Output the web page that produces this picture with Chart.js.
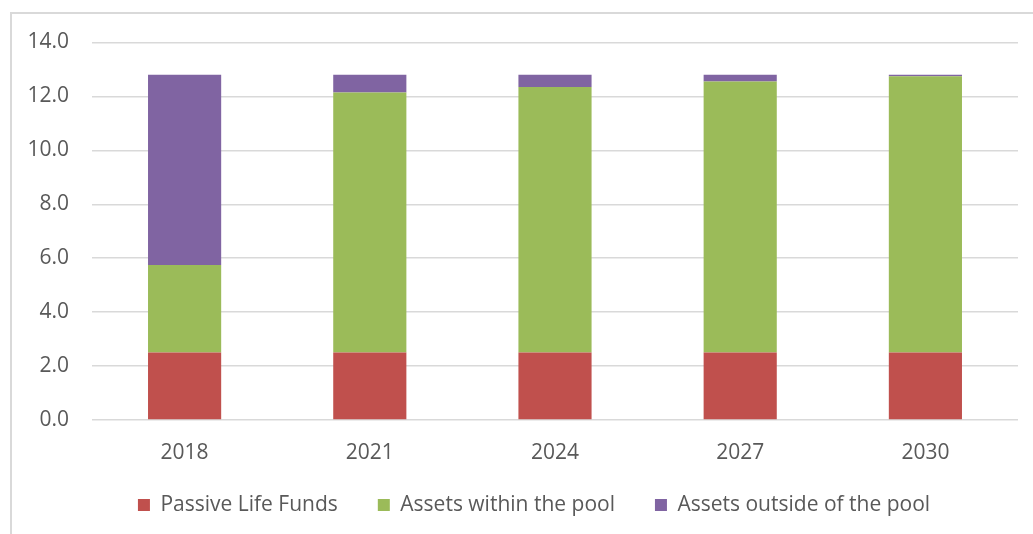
<!DOCTYPE html>
<html>
<head>
<meta charset="utf-8">
<script src="https://cdn.jsdelivr.net/npm/chart.js@4"></script>
<style>
  html, body { margin: 0; padding: 0; background: #fff; }
  #wrap { position: relative; width: 1033px; height: 534px; overflow: hidden; }
  #frame { position: absolute; left: 10px; top: 12px; width: 1100px; height: 600px;
           border: 2px solid #d9d9d9; box-sizing: border-box; }
  #chart { position: absolute; left: 0; top: 0; }
</style>
</head>
<body>
<div id="wrap">
  <div id="frame"></div>
  <canvas id="chart" width="1033" height="534"></canvas>
</div>
<script>
const years = ["2018", "2021", "2024", "2027", "2030"];
const passiveLife = [2.5, 2.5, 2.5, 2.5, 2.5];
const withinPool = [3.25, 9.65, 9.85, 10.05, 10.25];
const outsidePool = [7.05, 0.65, 0.45, 0.25, 0.05];
const yTicks = [0, 2, 4, 6, 8, 10, 12, 14];

const textColor = "#595959";
const font = { family: "'Open Sans', sans-serif", size: 21 };

// nudge the legend so it sits like the original (wide item gaps, close to axis labels)
const legendShift = {
  id: "legendShift",
  afterLayout(chart) {
    chart.legend.left = 50;
    chart.legend.top = 454.5;
  }
};

const ctx = document.getElementById("chart").getContext("2d");

new Chart(ctx, {
  type: "bar",
  data: {
    labels: years,
    datasets: [
      { label: "Passive Life Funds", data: passiveLife, backgroundColor: "#C0504D" },
      { label: "Assets within the pool", data: withinPool, backgroundColor: "#9BBB59" },
      { label: "Assets outside of the pool", data: outsidePool, backgroundColor: "#8064A2" }
    ]
  },
  options: {
    responsive: false,
    animation: false,
    layout: { padding: { top: 42.5, right: 15, left: 0, bottom: 0 } },
    datasets: { bar: { categoryPercentage: 1, barPercentage: 0.395 } },
    plugins: {
      tooltip: { enabled: false },
      legend: {
        position: "bottom",
        labels: {
          color: textColor,
          font: font,
          boxWidth: 12,
          boxHeight: 12,
          padding: 40
        }
      }
    },
    scales: {
      x: {
        stacked: true,
        grid: { display: false },
        border: { display: false },
        ticks: { color: textColor, font: font, padding: 12 },
        afterFit: (scale) => { scale.height = 43; }
      },
      y: {
        stacked: true,
        min: 0,
        max: 14,
        afterBuildTicks: (scale) => { scale.ticks = yTicks.map(v => ({ value: v })); },
        grid: { color: "#d9d9d9", lineWidth: 1.5, drawTicks: false },
        border: { display: false },
        ticks: {
          color: textColor,
          font: font,
          padding: 23,
          callback: (v) => Number(v).toFixed(1)
        },
        afterFit: (scale) => { scale.width = 92; }
      }
    }
  },
  plugins: [legendShift]
});
</script>
</body>
</html>
